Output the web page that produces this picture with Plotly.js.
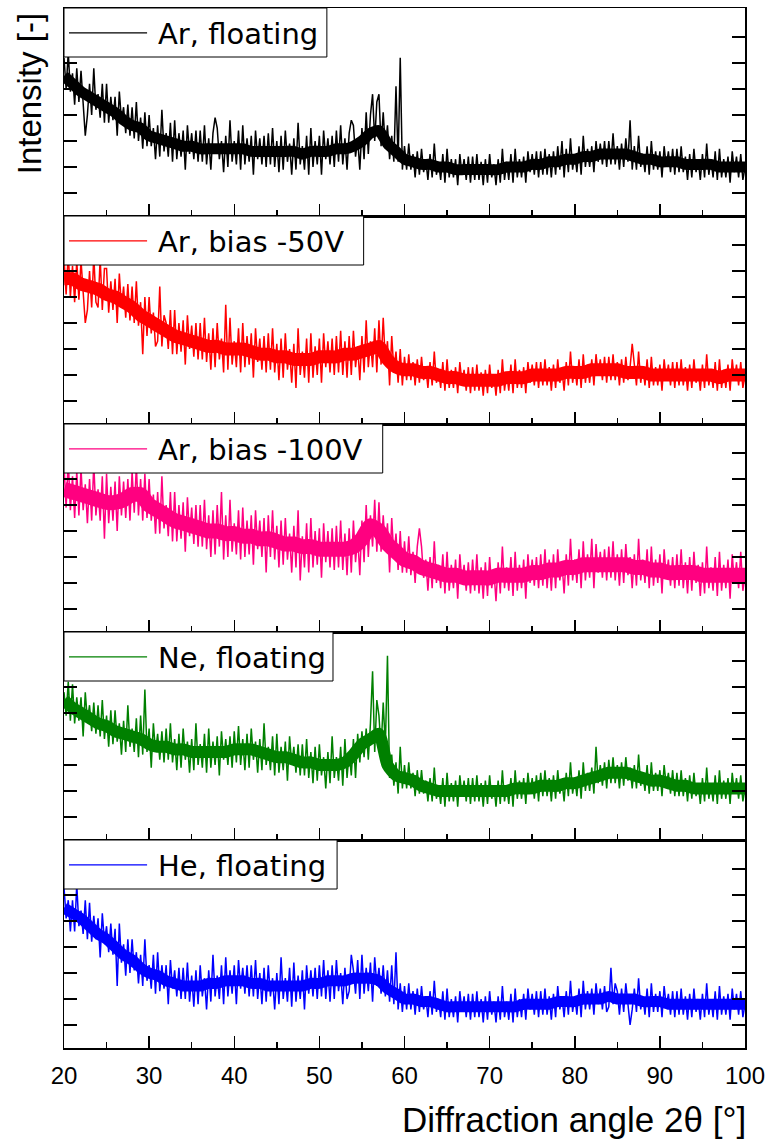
<!DOCTYPE html>
<html>
<head>
<meta charset="utf-8">
<script src="https://cdn.plot.ly/plotly-3.0.1.min.js"></script>
<style>html,body{margin:0;padding:0;background:#fff;}</style>
</head>
<body>
<div id="chart" style="width:772px;height:1139px;"></div>
<script>
// Diffraction angle grids
const angleStart = 20, angleEnd = 100, fineStep = 0.25, coarseStep = 1;

const seriesNames = ["Ar, floating", "Ar, bias -50V", "Ar, bias -100V", "Ne, floating", "He, floating"];
const seriesColors = ["#000000", "#ff0000", "#ff0080", "#008000", "#0000ff"];

// Measured intensity [a.u.], one value per 0.25 deg (20..100)
const arFloating = [
52,40,54,39, 46,34,48,35, 47,35,22,30, 42,30,48,32, 38,29,42,27,
42,27,37,28, 37,22,39,28, 33,23,34,22, 33,21,35,20, 29,17,31,18,
30,18,25,13, 26,14,32,16, 23,14,27,12, 28,13,23,14, 24,9,26,15,
23,13,24,12, 24,12,26,11, 21,9,23,29, 25,13,20,8, 22,10,28,12,
20,11,24,9, 26,11,21,12, 22,7,24,13, 21,11,22,10, 23,11,25,10,
20,8,22,9, 24,12,19,7, 21,9,27,11, 18,9,22,7, 25,10,20,11,
22,7,24,13, 21,11,22,10, 24,12,26,11, 21,9,23,28, 26,14,21,9,
25,13,31,15, 30,38,20,35, 38,18,31,17, 26,13,22,12, 41,12,52,9,
18,9,19,9, 15,6,16,7, 17,8,13,5, 15,6,19,7, 12,5,15,4,
17,6,13,6, 13,3,15,7, 13,5,14,4, 14,5,15,5, 12,3,13,4,
15,6,11,3, 13,4,17,5, 12,5,15,4, 17,6,13,6, 14,4,16,8,
15,7,16,6, 16,7,17,7, 15,6,16,7, 18,9,20,6, 17,8,21,9,
15,8,18,7, 22,10,17,10, 18,8,20,12, 19,11,20,10, 20,11,23,11,
18,9,19,10, 21,12,28,9, 18,9,22,10, 15,8,18,7, 20,9,16,9,
16,6,18,10, 16,8,17,7, 17,8,18,8, 14,5,15,6, 17,8,13,5,
15,6,19,7, 13,6,16,5, 17,6,13,6, 14,4,16,8, 14,6,15,5,
10];

const arBias50 = [
55,41,57,40, 52,38,54,39, 54,40,30,35, 50,36,56,38, 36,55,35,51,
51,34,46,35, 47,30,49,36, 44,32,45,31, 44,30,46,29, 38,18,40,25,
40,26,34,21, 23,44,21,33, 30,20,35,18, 35,18,30,19, 31,14,33,20,
29,17,30,16, 30,16,32,15, 26,12,28,13, 30,16,24,11, 37,12,32,14,
23,13,28,11, 30,13,25,14, 26,9,28,15, 24,12,25,11, 26,12,28,11,
22,8,24,9, 26,12,20,7, 22,5,28,10, 19,9,24,7, 26,9,21,10,
24,7,26,13, 23,11,24,10, 25,11,27,10, 23,9,25,10, 27,13,21,8,
25,11,31,13, 23,13,28,11, 31,14,32,15, 23,6,25,12, 19,7,20,6,
17,8,18,8, 15,6,16,7, 17,8,13,5, 15,6,19,7, 12,5,15,4,
16,5,12,5, 13,3,15,7, 12,4,13,3, 13,4,14,4, 11,2,12,3,
14,5,10,2, 12,3,16,4, 11,4,14,3, 16,5,12,5, 13,3,15,7,
14,6,15,5, 15,6,16,6, 13,4,14,5, 16,7,12,4, 15,6,19,7,
13,6,16,5, 18,7,14,7, 16,6,18,10, 16,8,17,7, 17,8,18,8,
15,6,16,7, 17,8,13,22, 15,6,19,7, 13,6,16,5, 17,6,13,6,
14,4,16,8, 14,6,15,5, 15,6,16,6, 13,4,14,5, 16,7,12,4,
14,5,18,6, 12,5,15,4, 16,5,12,5, 14,4,16,8, 14,6,15,5,
10];

const arBias100 = [
55,39,57,38, 51,35,53,36, 54,38,48,33, 50,34,56,36, 46,34,51,27,
52,33,47,34, 49,30,51,36, 49,35,50,34, 53,37,55,36, 50,34,52,35,
50,34,44,29, 45,29,51,31, 40,28,45,26, 45,26,40,27, 41,22,43,28,
39,25,40,24, 40,24,42,23, 36,20,38,21, 40,24,45,19, 36,20,42,22,
33,21,38,19, 39,20,34,21, 36,17,38,23, 34,20,35,14, 36,20,38,19,
32,16,34,17, 35,19,29,14, 32,16,38,11, 28,16,33,14, 35,16,30,17,
31,12,33,18, 30,16,31,15, 32,16,34,15, 29,13,31,14, 34,18,28,13,
34,18,40,20, 36,24,42,22, 41,22,36,23, 33,14,35,20, 29,15,30,14,
26,14,28,13, 22,10,24,31, 24,12,19,7, 20,8,26,10, 17,8,21,6,
22,7,17,8, 19,4,21,10, 17,7,18,6, 19,7,21,6, 16,4,18,5,
20,8,15,3, 18,6,24,8, 16,7,20,5, 22,7,17,8, 19,4,21,10,
19,9,20,8, 21,9,23,8, 19,7,21,8, 23,11,18,6, 21,9,27,11,
19,10,23,8, 26,11,21,12, 27,8,25,14, 22,12,23,11, 24,12,26,11,
21,9,23,10, 25,13,20,8, 21,9,27,11, 19,10,23,8, 24,9,19,10,
21,6,23,12, 19,9,20,8, 21,9,23,8, 18,6,20,7, 22,10,17,5,
18,6,24,8, 16,7,20,5, 22,7,17,8, 19,4,21,10, 18,8,22,7,
13];

const neFloating = [
48,39,52,37, 51,36,46,37, 46,31,48,37, 43,33,44,32, 43,31,45,30,
39,27,41,28, 41,29,36,24, 37,25,43,27, 34,25,38,23, 39,24,49,25,
34,19,36,25, 32,22,33,21, 34,22,36,21, 30,18,32,19, 34,22,29,17,
30,18,36,20, 28,19,32,17, 34,19,29,20, 31,16,33,22, 30,20,31,19,
33,21,35,20, 30,18,32,19, 34,22,29,17, 30,18,36,20, 27,18,31,16,
32,17,27,18, 29,14,31,20, 27,17,28,16, 28,16,30,15, 25,13,27,14,
28,16,23,11, 25,13,31,15, 23,14,27,12, 30,15,25,16, 30,15,32,21,
33,23,34,22, 36,56,25,45, 39,26,44,27, 62,15,24,12, 21,9,27,11,
20,11,21,11, 17,8,18,9, 18,9,14,6, 15,6,19,7, 12,5,15,4,
17,6,13,6, 14,4,16,8, 14,6,15,5, 15,6,16,6, 13,4,14,5,
16,7,12,4, 14,5,18,6, 12,5,15,4, 18,7,14,7, 15,5,17,9,
15,7,16,6, 17,8,18,8, 15,6,16,7, 18,9,14,6, 17,8,21,9,
15,8,18,7, 21,10,17,10, 19,9,27,13, 20,12,21,11, 22,13,23,13,
20,11,21,12, 23,14,19,11, 20,11,24,12, 17,10,20,9, 21,10,17,10,
18,8,20,12, 17,9,18,8, 17,8,18,8, 15,6,16,7, 17,8,13,5,
15,6,19,7, 13,6,16,5, 18,7,14,7, 15,5,17,9, 15,7,16,6,
11];

const heFloating = [
53,41,48,36, 48,36,54,38, 44,35,48,33, 47,32,42,33, 41,26,43,32,
38,28,39,27, 37,15,39,24, 31,19,33,20, 33,21,28,16, 27,15,33,17,
23,14,27,12, 28,13,23,14, 23,8,25,14, 21,11,22,10, 22,10,24,9,
19,7,21,8, 23,11,18,6, 21,9,27,11, 19,10,23,8, 26,11,21,12,
23,8,25,14, 22,12,23,11, 23,11,25,10, 20,8,22,9, 23,11,18,6,
20,8,26,10, 18,9,22,7, 24,9,19,10, 21,6,23,12, 21,11,22,10,
23,11,25,10, 21,9,23,10, 25,13,20,8, 22,10,13,27, 21,12,25,10,
27,12,22,13, 24,9,26,15, 22,12,23,11, 21,9,23,8, 28,6,16,5,
15,6,16,6, 13,4,14,5, 15,6,11,3, 13,4,17,5, 10,3,13,2,
14,3,10,3, 11,1,13,5, 11,3,12,2, 12,3,13,3, 10,1,11,2,
13,4,9,1, 11,2,15,3, 9,2,12,1, 14,3,10,3, 12,2,14,6,
12,4,13,3, 13,4,14,4, 11,2,12,3, 15,6,11,3, 13,4,17,5,
11,4,14,3, 17,6,13,6, 14,4,16,8, 14,6,15,5, 7,22,8,16,
13,4,14,5, 16,7,0,6, 14,5,18,6, 11,4,14,3, 16,5,12,5,
13,3,15,7, 12,4,13,3, 13,4,14,4, 11,2,12,3, 14,5,10,2,
12,3,16,4, 10,3,13,2, 15,4,11,4, 12,2,14,6, 12,4,13,3,
8];

// Dense core of each band (band centre), one value per 1 deg (20..100)
const arFloatingCore = [45,42,39,37,35,33,31,28,26,25, 22,21,20,19,18,18,17,17,17,17, 17,17,16,16,16,16,16,16,15,16,
  16,16,17,17,18,20,23,24,19,16, 13,12,11,11,10,10,9,9,9,9, 9,9,10,10,10,11,11,12,12,13,
  13,14,14,15,15,15,15,14,13,13, 12,12,12,11,11,11,11,10,10,10, 10];
const arBias50Core = [47,47,45,44,43,41,40,38,36,33, 31,29,27,25,24,23,22,21,21,20, 20,20,19,18,18,17,17,16,16,16,
  17,17,17,18,18,19,20,21,16,13, 12,12,11,11,10,9,9,8,8,8, 8,8,9,9,9,10,10,10,10,11,
  11,11,12,12,12,12,11,11,11,10, 10,10,10,10,10,10,10,9,10,10, 10];
const arBias100Core = [46,45,44,43,42,41,41,42,44,44, 40,38,36,34,33,32,31,30,30,29, 29,28,28,27,27,26,25,25,24,24,
  23,23,23,23,24,27,32,30,25,22, 19,18,16,15,14,13,13,12,12,12, 12,13,13,13,13,14,14,15,15,16,
  16,17,17,17,17,17,17,16,16,15, 15,14,14,14,14,13,13,13,13,13, 13];
const neFloatingCore = [45,42,40,38,36,35,33,32,31,30, 28,27,27,26,26,25,25,25,25,25, 26,26,26,25,24,23,23,22,21,21,
  20,20,20,21,24,28,30,32,20,16, 15,14,12,11,10,10,10,10,10,10, 10,10,10,11,11,11,12,12,12,13,
  13,14,15,16,17,17,17,16,15,14, 14,13,12,12,11,11,11,11,11,11, 11];
const heFloatingCore = [45,43,41,38,35,33,30,27,25,22, 20,19,17,16,15,15,15,16,16,17, 17,17,16,16,15,15,15,15,15,16,
  16,17,17,17,18,18,18,17,14,12, 10,10,9,9,8,7,7,7,7,7, 7,7,7,7,8,8,8,8,9,9,
  9,10,10,10,11,10,10,10,9,9, 9,8,8,8,8,8,8,8,8,8, 8];

const xTickVals = [20, 30, 40, 50, 60, 70, 80, 90, 100];
const yTickVals = [0, 10, 20, 30, 40, 50, 60];

const fineSeries = [arFloating, arBias50, arBias100, neFloating, heFloating];
const coreSeries = [arFloatingCore, arBias50Core, arBias100Core, neFloatingCore, heFloatingCore];

const fineAngles = [], coarseAngles = [];
for (let i = 0; angleStart + i * fineStep <= angleEnd + 1e-9; i++) fineAngles.push(angleStart + i * fineStep);
for (let i = 0; angleStart + i * coarseStep <= angleEnd + 1e-9; i++) coarseAngles.push(angleStart + i * coarseStep);

// styles: thickness of the dense band (px) and legend box widths
const coreWidths = [11, 13, 15, 12, 11];
const boxRight = [0.386, 0.440, 0.468, 0.395, 0.401];

const FONT = 'Arial, "Liberation Sans", sans-serif';
const traces = [];
const layout = {
  width: 772, height: 1139,
  margin: {l: 64, r: 27, t: 8, b: 91},
  showlegend: false,
  paper_bgcolor: '#ffffff', plot_bgcolor: '#ffffff',
  font: {family: FONT, color: '#000000'},
  shapes: [], annotations: []
};

for (let i = 0; i < 5; i++) {
  const xs = i === 0 ? 'x' : 'x' + (i + 1);
  const ys = i === 0 ? 'y' : 'y' + (i + 1);
  const xk = i === 0 ? 'xaxis' : 'xaxis' + (i + 1);
  const yk = i === 0 ? 'yaxis' : 'yaxis' + (i + 1);
  traces.push({
    x: coarseAngles, y: coreSeries[i], xaxis: xs, yaxis: ys,
    type: 'scatter', mode: 'lines', name: seriesNames[i] + ' core',
    line: {color: seriesColors[i], width: coreWidths[i], shape: 'spline', smoothing: 0.6}, hoverinfo: 'skip'
  });
  traces.push({
    x: fineAngles, y: fineSeries[i], xaxis: xs, yaxis: ys,
    type: 'scatter', mode: 'lines', name: seriesNames[i],
    line: {color: seriesColors[i], width: 1.5}, hoverinfo: 'skip'
  });
  layout[xk] = {
    anchor: ys, range: [20, 100], tickvals: xTickVals,
    ticks: 'inside', ticklen: 12, tickwidth: 1.5, tickcolor: '#000',
    minor: {dtick: 5, tick0: 0, ticks: 'inside', ticklen: 6, tickwidth: 1.5, tickcolor: '#000'},
    showline: true, linewidth: 1.5, linecolor: '#000', mirror: true,
    showgrid: false, zeroline: false,
    showticklabels: i === 4, ticklabelstandoff: 6,
    tickfont: {family: FONT, size: 24, color: '#000'}
  };
  layout[yk] = {
    anchor: xs, domain: [(4 - i) * 0.2, (5 - i) * 0.2], range: [-8.85, 71.15],
    tickvals: yTickVals, ticks: 'inside', ticklen: 13, tickwidth: 1.5, tickcolor: '#000',
    showline: true, linewidth: 1.5, linecolor: '#000', mirror: 'ticks',
    showgrid: false, zeroline: false, showticklabels: false
  };
  const xr = xs + ' domain', yr = ys + ' domain';
  layout.shapes.push({type: 'rect', xref: xr, yref: yr, x0: 0, x1: boxRight[i], y0: 1 - 49 / 208, y1: 1,
    fillcolor: '#ffffff', line: {color: '#000', width: 1}, layer: 'above'});
  layout.shapes.push({type: 'line', xref: xr, yref: yr, x0: 0.0073, x1: 0.122, y0: 0.88, y1: 0.88,
    line: {color: seriesColors[i], width: 1.2}, layer: 'above'});
  layout.annotations.push({xref: xr, yref: yr, x: 0.135, y: 0.875, xanchor: 'left', yanchor: 'middle',
    text: seriesNames[i], showarrow: false, font: {family: '"DejaVu Sans", sans-serif', size: 29, color: '#000'}});
}

layout.annotations.push({xref: 'paper', yref: 'paper', x: -0.0514, y: 0.918, xanchor: 'center', yanchor: 'middle',
  textangle: -90, text: 'Intensity [-]', showarrow: false, font: {family: FONT, size: 33, color: '#000'}});
layout.annotations.push({xref: 'paper', yref: 'paper', x: 1.0044, y: -0.0683, xanchor: 'right', yanchor: 'middle',
  text: 'Diffraction angle 2θ [°]', showarrow: false, font: {family: FONT, size: 35, color: '#000'}});

Plotly.newPlot('chart', traces, layout, {displayModeBar: false, staticPlot: true});
</script>
</body>
</html>
